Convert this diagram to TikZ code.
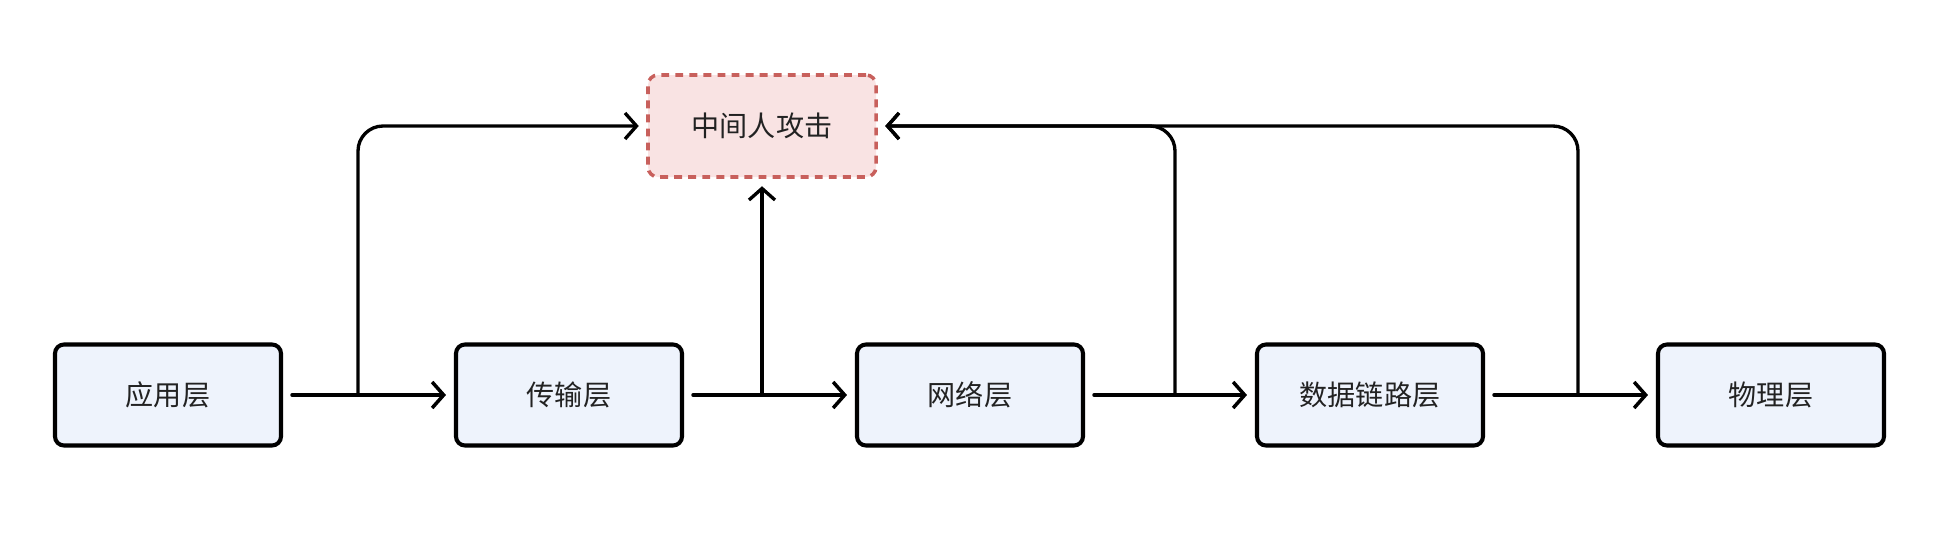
\documentclass[tikz,border=0pt]{standalone}
\usepackage{fontspec}
\setmainfont{Noto Sans CJK SC}
\usetikzlibrary{arrows.meta,positioning}
\definecolor{layerfill}{HTML}{EEF3FC}
\definecolor{attackfill}{HTML}{F9E3E3}
\definecolor{attackline}{HTML}{C8605C}
\definecolor{textdark}{HTML}{222222}
\begin{document}
\begin{tikzpicture}[layer/.style={draw,line width=2.3pt,rounded corners=0.18cm,fill=layerfill,minimum width=4.52cm,minimum height=2.02cm,text=textdark,font=\fontsize{16}{19}\selectfont},
  attack/.style={draw=attackline,dash pattern=on 4.5pt off 3.5pt,line width=2pt,rounded corners=0.2cm,fill=attackfill,minimum width=4.56cm,minimum height=2.04cm,text=textdark,font=\fontsize{16}{19}\selectfont},
  link/.style={line width=2pt,line cap=round,-{Straight Barb[length=2.3mm,width=5.2mm]},shorten <=0.18cm,shorten >=0.16cm},
  tap/.style={line width=1.9pt,rounded corners=0.5cm,-{Straight Barb[length=2.3mm,width=5.2mm]},shorten >=0.15cm}]
\useasboundingbox (0,0) rectangle (39.16,10.84);
\node[layer] (app) at (3.36,2.94) {应用层};
\node[layer] (trans) at (11.38,2.94) {传输层};
\node[layer] (net) at (19.4,2.94) {网络层};
\node[layer] (link) at (27.4,2.94) {数据链路层};
\node[layer] (phy) at (35.42,2.94) {物理层};
\node[attack] (mitm) at (15.24,8.32) {中间人攻击};
\draw[link] (app) -- (trans);
\draw[link] (trans) -- (net);
\draw[link] (net) -- (link);
\draw[link] (link) -- (phy);
\coordinate (tapa) at (7.16,2.94);
\coordinate (tapt) at (mitm.south |- app);
\coordinate (tapn) at (23.5,2.94);
\coordinate (tapl) at (31.56,2.94);
\draw[tap] (tapa) |- (mitm.west);
\draw[tap] (tapt) -- (mitm.south);
\draw[tap] (tapn) |- (mitm.east);
\draw[tap] (tapl) |- (mitm.east);
\end{tikzpicture}
\end{document}
